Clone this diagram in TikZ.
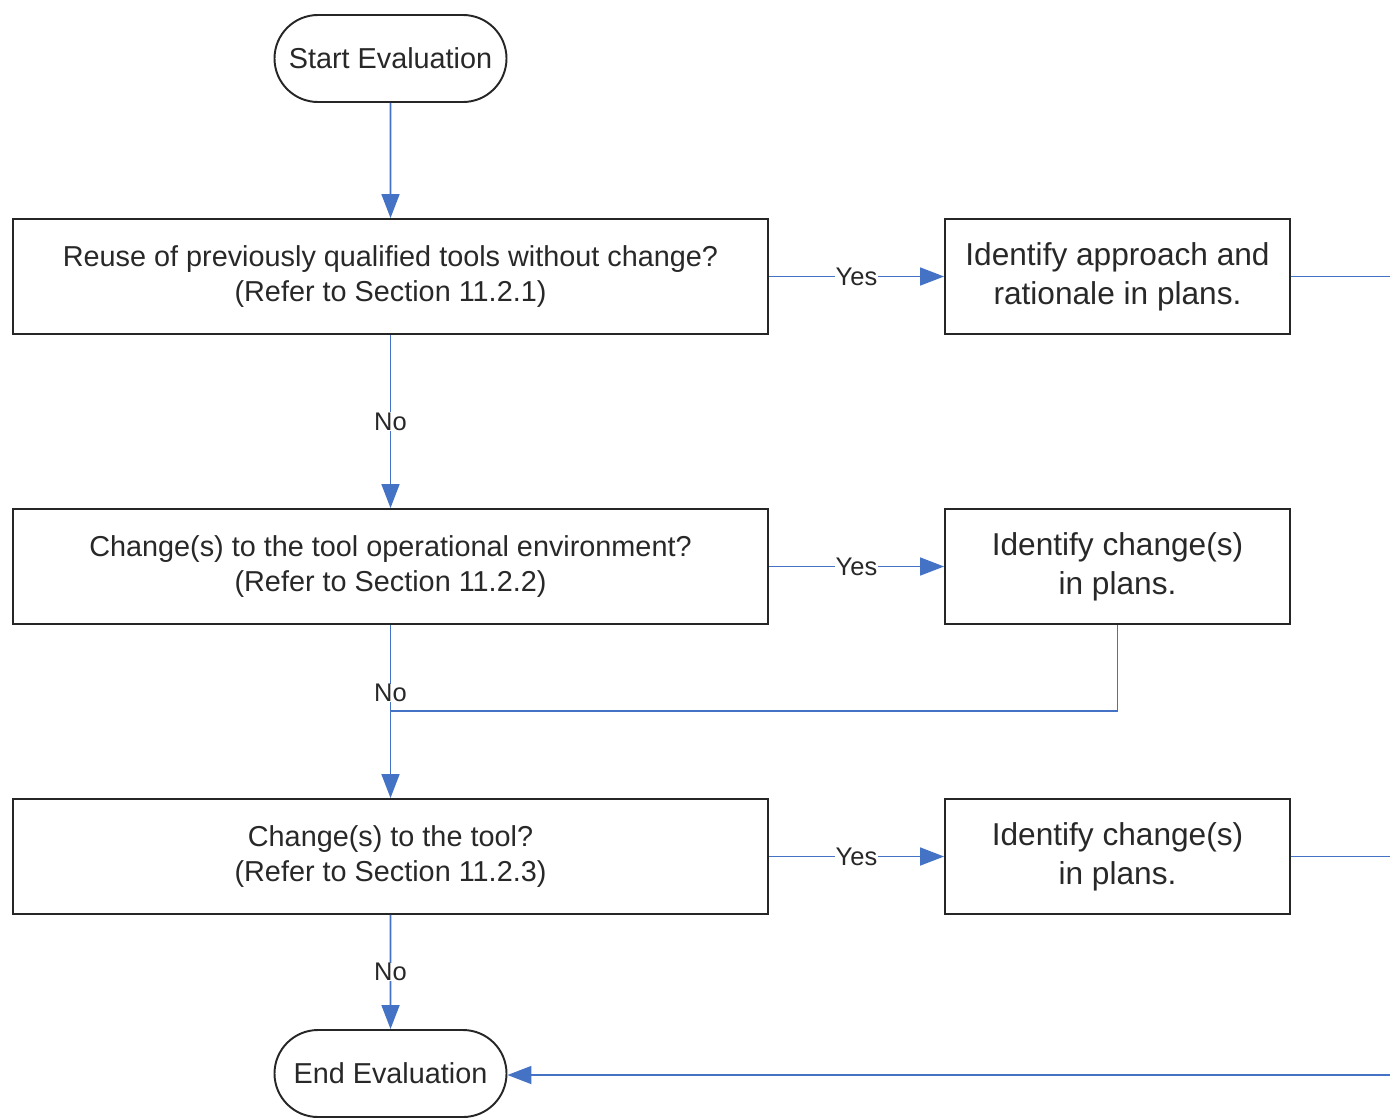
\documentclass[tikz,border=0pt]{standalone}
\usepackage{fontspec}
\setmainfont{Liberation Sans}
\usetikzlibrary{arrows.meta,shapes.misc}
\definecolor{myblue}{RGB}{68,114,196}
\definecolor{txt}{RGB}{40,40,40}
\tikzset{
  box/.style={draw=black!85, line width=1.1pt, rectangle, minimum width=15.1cm, minimum height=2.3cm,
    align=center, text=txt, font=\fontsize{16.4}{19.8}\selectfont, inner sep=0pt},
  rbox/.style={draw=black!85, line width=1.1pt, rectangle, minimum width=6.9cm, minimum height=2.3cm,
    align=center, text=txt, font=\fontsize{18}{22}\selectfont, inner sep=0pt},
  term/.style={draw=black!85, line width=1.1pt, rounded rectangle, minimum width=4.64cm, minimum height=1.74cm,
    text=txt, font=\fontsize{16.4}{19.8}\selectfont, inner sep=0pt},
  bline/.style={draw=myblue, line width=1pt},
  conn/.style={bline, -{Triangle[length=0.48cm,width=0.36cm]}},
  lbl/.style={fill=white, text=txt, font=\fontsize{14.5}{16}\selectfont, inner sep=0.3pt}
}
\begin{document}
\begin{tikzpicture}
\useasboundingbox (0,0) rectangle (27.8,-22.34);
\node[term] (start) at (7.81,-1.17) {Start Evaluation};
\node[box] (b1) at (7.81,-5.53) {Reuse of previously qualified tools without change?\\(Refer to Section 11.2.1)};
\node[rbox] (r1) at (22.35,-5.53) {Identify approach and\\rationale in plans.};
\node[box] (b2) at (7.81,-11.33) {Change(s) to the tool operational environment?\\(Refer to Section 11.2.2)};
\node[rbox] (r2) at (22.35,-11.33) {Identify change(s)\\in plans.};
\node[box] (b3) at (7.81,-17.13) {Change(s) to the tool?\\(Refer to Section 11.2.3)};
\node[rbox] (r3) at (22.35,-17.13) {Identify change(s)\\in plans.};
\node[term] (end) at (7.81,-21.47) {End Evaluation};
\coordinate (m) at (7.81,-14.22);
\coordinate (e1) at (27.8,-5.53);
\coordinate (e3) at (27.8,-17.13);
\coordinate (e4) at (27.8,-21.5);

\draw[conn] (start) -- (b1);
\draw[conn] (b1) -- node[lbl]{No} (b2);
\draw[bline] (r2.south) |- (m);
\draw[conn] (b2.south) -- node[lbl,pos=0.79]{No} (m) -- (b3.north);
\draw[conn] (b3) -- node[lbl]{No} (end);
\draw[conn] (b1) -- node[lbl]{Yes} (r1);
\draw[conn] (b2) -- node[lbl]{Yes} (r2);
\draw[conn] (b3) -- node[lbl]{Yes} (r3);
\draw[bline] (r1.east) -- (e1);
\draw[bline] (r3.east) -- (e3);
\draw[conn] (e4) -- (end.east |- e4);
\end{tikzpicture}
\end{document}
